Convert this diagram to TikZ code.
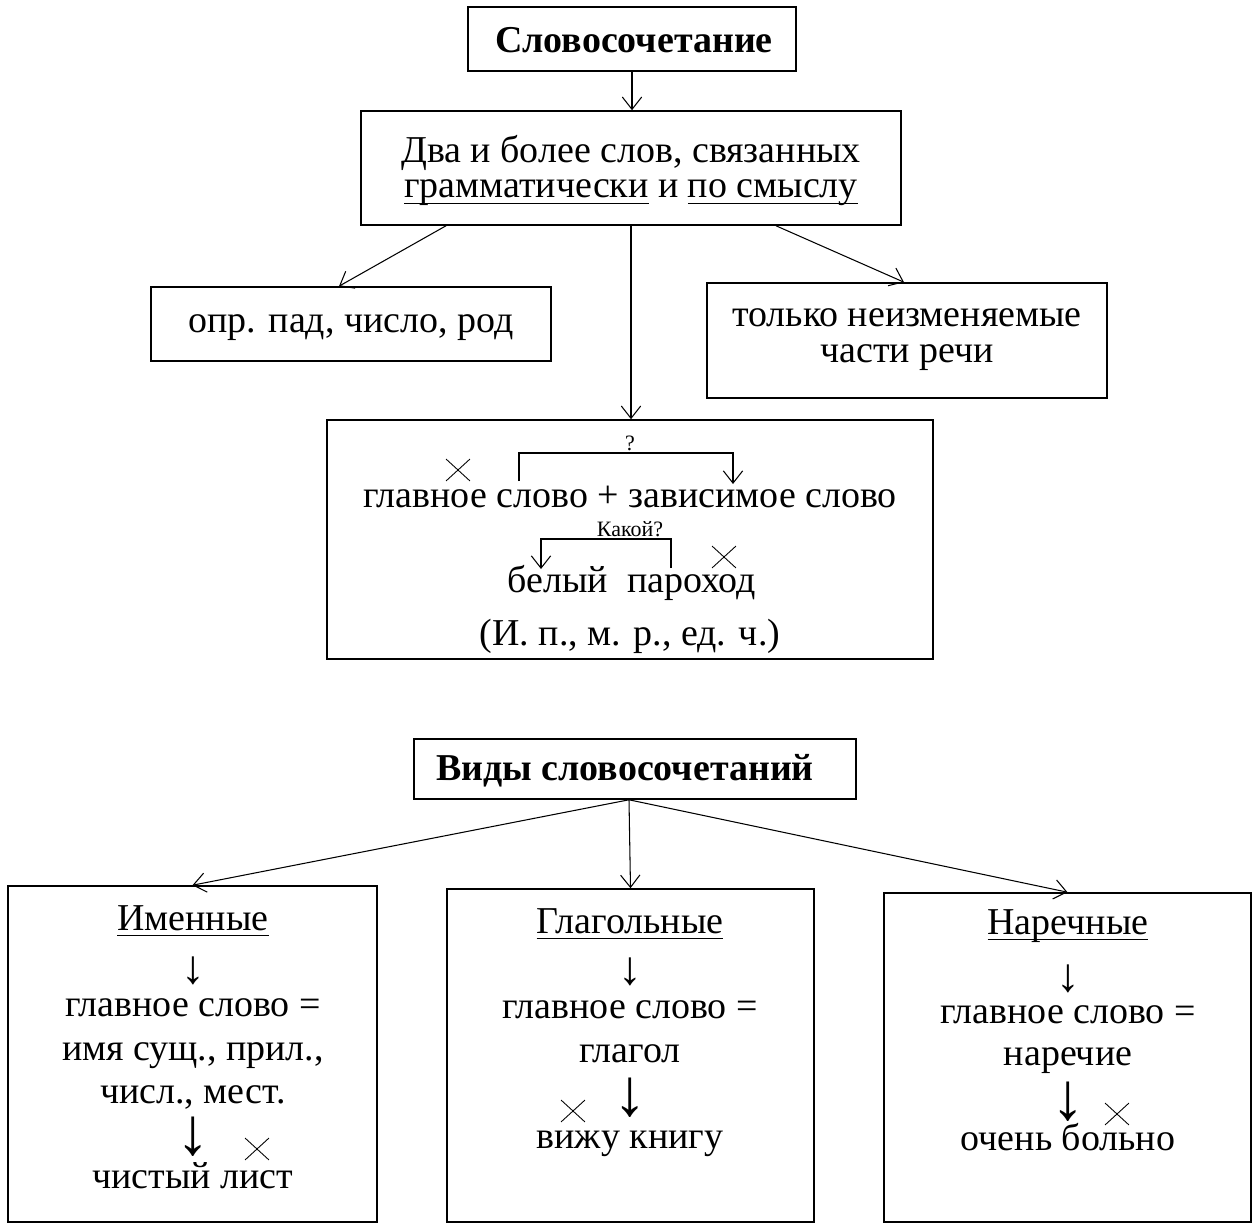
\documentclass[tikz,border=0pt]{standalone}
\usepackage{fontspec}
\setmainfont{Liberation Serif}
\usetikzlibrary{arrows.meta,positioning,fit,shapes.misc}
\newcommand{\undr}[1]{\setbox0=\hbox{#1}\rlap{\rule[-0.17em]{\wd0}{0.05em}}\box0\relax}
\newcommand{\bigfont}{\fontsize{21.6}{26}\selectfont}
\newcommand{\smallfont}{\fontsize{12.5}{15}\selectfont}
\newcommand{\arrfont}{\fontsize{27}{30}\selectfont}
\newcommand{\Arrfont}{\fontsize{38}{40}\selectfont}

\begin{document}
\begin{tikzpicture}[x=0.02cm, y=-0.02cm, every node/.style={font=\bigfont},
    box/.style={draw, line width=0.9pt, inner sep=0pt},
    txt/.style={anchor=base, inner sep=0pt},
    note/.style={anchor=base, inner sep=0pt, font=\smallfont},
    link/.style={line width=0.6pt, -{Straight Barb[length=7pt,width=11pt]}},
    xmark/.style={cross out, draw, line width=0.5pt, inner sep=0pt, minimum width=0.46cm, minimum height=0.42cm},
    dn/.style={inner sep=0pt, font=\arrfont},
    bigdn/.style={inner sep=0pt, font=\Arrfont}]
  \useasboundingbox (0,0) rectangle (1252,1223);

  % Словосочетание
  \node[box, fit={(468,7) (796,71)}] (title) {};
  \node[txt, font=\bigfont\bfseries] (titletxt) at (634,53) {Словосочетание};
  \node[box, fit={(361,111) (901,225)}] (def) {};
  \node[txt] (def1) at (631,163) {Два и более слов, связанных};
  \node[txt] (def2) at (631,198) {\undr{грамматически} и \undr{по смыслу}};
  \node[box, fit={(151,287) (551,361)}] (agr) {};
  \node[txt] (agrtxt) at (351,333) {опр. пад, число, род};
  \node[box, fit={(707,283) (1107,398)}] (inv) {};
  \node[txt] (inv1) at (907,327) {только неизменяемые};
  \node[txt] (inv2) at (907,363) {части речи};

  \node[box, fit={(327,420) (933,659)}] (phr) {};
  \node[note] (q) at (630,451) {?};
  \coordinate (g1) at (519,481);
  \coordinate (d1) at (733,484);
  \draw[link] (g1) -- ++(0,-28) -| (d1);
  \node[xmark] (x1) at (458,470) {};
  \node[txt] (main) at (630,507) {главное слово + зависимое слово};
  \node[note] (kak) at (630,537) {Какой?};
  \coordinate (k1) at (541,569);
  \coordinate (k2) at (671,568);
  \draw[link] (k2) -- ++(0,-29) -| (k1);
  \node[xmark] (x2) at (724,557) {};
  \node[txt] (ex) at (632,592) {белый\ \ пароход};
  \node[txt] (gram) at (630,645) {(И. п., м. р., ед. ч.)};

  \draw[link] (title.south) -- (title.south |- def.north);
  \draw[link] (446,0 |- def.south) -- (339,0 |- agr.north);
  \draw[link] (def.south) -- (def.south |- phr.north);
  \draw[link] (776,0 |- def.south) -- (904,0 |- inv.north);

  % Виды словосочетаний
  \node[box, fit={(414,739) (856,799)}] (kinds) {};
  \node[txt, font=\bigfont\bfseries] (kindstxt) at (625,780) {Виды словосочетаний};

  \node[box, fit={(8,886) (377,1222)}] (noun) {};
  \node[txt] (noun0) at (193,930) {\undr{Именные}};
  \node[dn] (noun1) at (193,971) {↓};
  \node[txt] (noun2) at (193,1016) {главное слово =};
  \node[txt] (noun3) at (193,1060) {имя сущ., прил.,};
  \node[txt] (noun4) at (193,1103) {числ., мест.};
  \node[bigdn] (noun5) at (193,1137) {↓};
  \node[xmark] (x3) at (257,1149) {};
  \node[txt] (noun6) at (193,1188) {чистый лист};

  \node[box, fit={(447,889) (814,1222)}] (verb) {};
  \node[txt] (verb0) at (630,933) {\undr{Глагольные}};
  \node[dn] (verb1) at (630,972) {↓};
  \node[txt] (verb2) at (630,1018) {главное слово =};
  \node[txt] (verb3) at (630,1062) {глагол};
  \node[bigdn] (verb4) at (630,1098) {↓};
  \node[xmark] (x4) at (573,1111) {};
  \node[txt] (verb5) at (630,1148) {вижу книгу};

  \node[box, fit={(884,893) (1251,1222)}] (adv) {};
  \node[txt] (adv0) at (1068,934) {\undr{Наречные}};
  \node[dn] (adv1) at (1068,979) {↓};
  \node[txt] (adv2) at (1068,1023) {главное слово =};
  \node[txt] (adv3) at (1068,1065) {наречие};
  \node[bigdn] (adv4) at (1068,1102) {↓};
  \node[xmark] (x5) at (1117,1114) {};
  \node[txt] (adv5) at (1068,1150) {очень больно};

  \draw[link] (629,0 |- kinds.south) -- (noun.north);
  \draw[link] (629,0 |- kinds.south) -- (verb.north);
  \draw[link] (629,0 |- kinds.south) -- (adv.north);
\end{tikzpicture}
\end{document}
